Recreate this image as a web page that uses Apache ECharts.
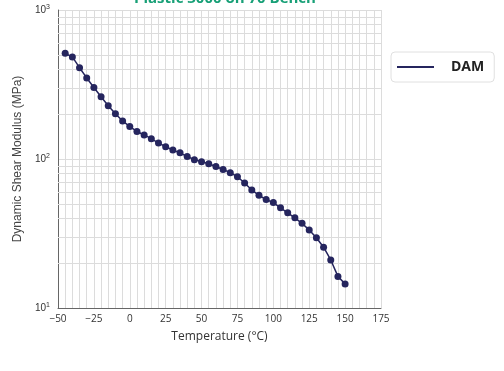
<!DOCTYPE html>
<html>
<head>
<meta charset="utf-8">
<script src="https://cdn.jsdelivr.net/npm/echarts@6/dist/echarts.min.js"></script>
<style>
html,body{margin:0;padding:0;background:#fff;}
#chart{width:504px;height:371px;}
</style>
</head>
<body>
<div id="chart"></div>
<script>
const titleText = "Plastic 3000 on 70 Bench";
const seriesName = "DAM";
const temperatures = [-45,-40,-35,-30,-25,-20,-15,-10,-5,0,5,10,15,20,25,30,35,40,45,50,55,60,65,70,75,80,85,90,95,100,105,110,115,120,125,130,135,140,145,150];
const modulus = [512,484,410,350,302,262,228,201,180,165,153,145,137,128,121,115,110,104,99,96,93,89,85,81,76,69,62,57,53.5,51,47,43.5,40.3,37,33.4,29.6,25.6,21,16.3,14.5];
const xTicks = [-50,-25,0,25,50,75,100,125,150,175];
const yTicks = [10,100,1000];
const yMinorLines = [20,30,40,50,60,70,80,90,200,300,400,500,600,700,800,900];

const chart = echarts.init(document.getElementById('chart'), null, {renderer:'canvas'});
const gridColor = '#dcdcdc';
chart.setOption({
  animation:false,
  backgroundColor:'#fff',
  title:{
    text:titleText, left:220, textAlign:'center', top:-14,
    textStyle:{color:'#18a077', fontSize:15, fontWeight:'bold', fontFamily:'Open Sans'}
  },
  legend:{
    data:[seriesName], left:391, top:52, orient:'vertical',
    icon:'rect', itemWidth:37, itemHeight:2,
    borderColor:'#e0e0e0', borderWidth:1, borderRadius:4,
    padding:[8,10,8,6],
    textStyle:{fontSize:14, fontWeight:'bold', color:'#222', fontFamily:'Open Sans', padding:[0,0,0,12]}
  },
  grid:{left:58, right:123, top:10, bottom:63},
  xAxis:{
    type:'value', min:xTicks[0], max:xTicks[xTicks.length-1], interval:25,
    name:'Temperature (°C)', nameLocation:'middle', nameGap:23,
    nameTextStyle:{fontSize:12, color:'#333', fontFamily:'Open Sans'},
    axisLine:{show:true, onZero:false, lineStyle:{color:'#666', width:1}},
    axisTick:{show:false},
    axisLabel:{fontSize:10, color:'#333', margin:6, fontFamily:'Open Sans',
      formatter:v=>String(v).replace('-','\u2212')},
    splitLine:{show:true, lineStyle:{color:gridColor, width:1}},
    minorTick:{show:false, splitNumber:5},
    minorSplitLine:{show:true, lineStyle:{color:gridColor, width:1}}
  },
  yAxis:{
    type:'log', logBase:10, min:yTicks[0], max:yTicks[yTicks.length-1],
    name:'Dynamic Shear Modulus (MPa)', nameLocation:'middle', nameGap:34,
    nameTextStyle:{fontSize:12, color:'#444', fontFamily:'Liberation Sans'},
    axisLine:{show:true, onZero:false, lineStyle:{color:'#666', width:1}},
    axisTick:{show:false},
    axisLabel:{color:'#333', margin:8,
      formatter:v=>'{b|10}{s|'+Math.round(Math.log10(v))+'}',
      rich:{b:{fontSize:10, color:'#333', fontFamily:'Liberation Sans'},
            s:{fontSize:7, color:'#333', fontFamily:'Liberation Sans', verticalAlign:'top', padding:[0,0,6,0]}}},
    splitLine:{show:true, lineStyle:{color:gridColor, width:1}}
  },
  series:[{
    name:seriesName, type:'line',
    data:temperatures.map((t,i)=>[t,modulus[i]]),
    symbol:'circle', symbolSize:7,
    lineStyle:{color:'#25255e', width:1.5},
    itemStyle:{color:'#25255e'},
    z:5,
    markLine:{
      silent:true, symbol:'none', label:{show:false},
      lineStyle:{color:gridColor, width:1, type:'solid'},
      data:yMinorLines.map(v=>({yAxis:v})),
      z:1
    }
  }]
});
</script>
</body>
</html>
